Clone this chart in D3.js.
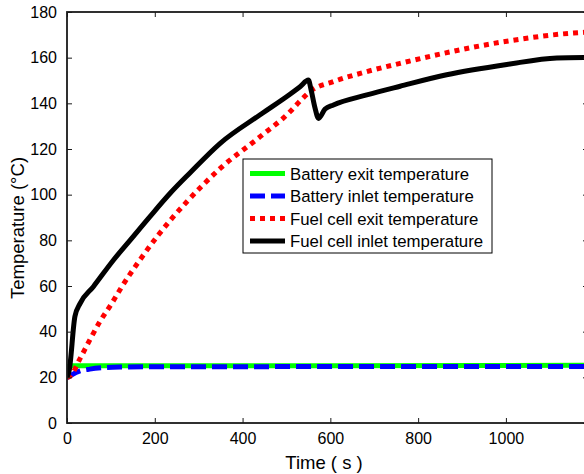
<!DOCTYPE html>
<html><head><meta charset="utf-8">
<script src="https://cdn.jsdelivr.net/npm/d3@7"></script>
<style>body{margin:0;background:#fff}svg{display:block}text{font-family:"Liberation Sans",Arial,sans-serif;fill:#000}</style>
</head><body><svg id="c" width="584" height="474"></svg>
<script>
// Data
const batExitT = [0, 3, 10, 600, 1187];
const batExitV = [20, 24.8, 25.1, 25.1, 25.3];
const batInletT = [0, 10, 30, 52, 80, 120, 200, 1187];
const batInletV = [19.8, 21, 22.8, 23.6, 24.2, 24.5, 24.6, 24.8];
const fcExitT = [0, 7, 30, 52, 75, 102, 125, 166, 208, 239, 273, 349, 440, 508, 531, 556, 607, 683, 759, 858, 1002, 1154, 1187];
const fcExitV = [20, 20.5, 28.3, 36.4, 44.4, 52.4, 59.7, 71.4, 82.3, 89.6, 96.9, 111.5, 125.4, 136.3, 141.0, 145.5, 149.5, 153.9, 157.5, 161.9, 167.2, 170.8, 171.2];
const fcInletT = [0, 5, 18, 30, 60, 106, 144, 189, 235, 280, 349, 440, 508, 531, 550, 556, 565, 573, 588, 607, 683, 759, 865, 1002, 1116, 1187];
const fcInletV = [20, 23, 46.6, 52.4, 59.7, 71.4, 80.1, 90.4, 100.6, 109.5, 122.5, 135.0, 144.0, 147.3, 150.2, 146, 138, 133.4, 137.5, 139.3, 143.7, 147.5, 152.5, 157.0, 159.9, 160.1];
const xTicks = [0, 200, 400, 600, 800, 1000];
const yTicks = [0, 20, 40, 60, 80, 100, 120, 140, 160, 180];
const seriesNames = ["Battery exit temperature", "Battery inlet temperature", "Fuel cell exit temperature", "Fuel cell inlet temperature"];
const xLabel = "Time ( s )";
const yLabel = "Temperature (°C)";

const svg = d3.select("#c");
const L = 67, R = 588, T = 12, B = 423;
const x = d3.scaleLinear().domain([0, 1187]).range([L, R]);
const y = d3.scaleLinear().domain([0, 180]).range([B, T]);

svg.append("defs").append("clipPath").attr("id", "clip")
  .append("rect").attr("x", L).attr("y", T).attr("width", R - L).attr("height", B - T);

const series = [
  {t: batExitT, v: batExitV, color: "#00ff00", dash: null},
  {t: batInletT, v: batInletV, color: "#0000ff", dash: "15,6"},
  {t: fcExitT, v: fcExitV, color: "#ff0000", dash: "5,5"},
  {t: fcInletT, v: fcInletV, color: "#000000", dash: null}
];
const line = d3.line().x(d => x(d[0])).y(d => y(d[1])).curve(d3.curveMonotoneX);
const g = svg.append("g").attr("clip-path", "url(#clip)");
series.forEach(s => {
  const pts = s.t.map((t, i) => [t, s.v[i]]);
  g.append("path").attr("d", line(pts)).attr("fill", "none")
    .attr("stroke", s.color).attr("stroke-width", 5)
    .attr("stroke-linejoin", "round")
    .attr("stroke-dasharray", s.dash);
});

// Axes box
const ax = svg.append("g").attr("stroke", "#1a1a1a").attr("stroke-width", 1.8).attr("fill", "none");
ax.append("rect").attr("x", L).attr("y", T).attr("width", R - L).attr("height", B - T);

const tl = 5;
const xb = d3.axisBottom(x).tickValues(xTicks).tickSize(-tl).tickPadding(10).tickFormat(d3.format("d"));
const xt = d3.axisTop(x).tickValues(xTicks).tickSize(-tl).tickFormat("");
const yl = d3.axisLeft(y).tickValues(yTicks).tickSize(-tl).tickPadding(10).tickFormat(d3.format("d"));
const yr = d3.axisRight(y).tickValues(yTicks).tickSize(-tl).tickFormat("");
function style(sel) {
  sel.select(".domain").remove();
  sel.selectAll("line").attr("stroke", "#1a1a1a").attr("stroke-width", 1);
  sel.selectAll("text").attr("font-size", 16).attr("font-family", "Liberation Sans, Arial, sans-serif").attr("fill", "#000");
}
svg.append("g").attr("transform", `translate(0,${B})`).call(xb).call(style);
svg.append("g").attr("transform", `translate(0,${T})`).call(xt).call(style);
svg.append("g").attr("transform", `translate(${L},0)`).call(yl).call(style);
svg.append("g").attr("transform", `translate(${R},0)`).call(yr).call(style);

svg.append("text").attr("x", 324).attr("y", 469).attr("text-anchor", "middle")
  .attr("font-size", 18.5).text(xLabel);
svg.append("text").attr("transform", "translate(24,228) rotate(-90)").attr("text-anchor", "middle")
  .attr("font-size", 18.5).text(yLabel);

// Legend
const lg = svg.append("g");
lg.append("rect").attr("x", 243).attr("y", 159).attr("width", 249).attr("height", 94)
  .attr("fill", "#fff").attr("stroke", "#000").attr("stroke-width", 1);
seriesNames.forEach((n, i) => {
  const cy = 173.5 + i * 22.5;
  lg.append("line").attr("x1", 250).attr("x2", 285).attr("y1", cy).attr("y2", cy)
    .attr("stroke", series[i].color).attr("stroke-width", 5)
    .attr("stroke-dasharray", series[i].dash);
  lg.append("text").attr("x", 290).attr("y", cy + 6).attr("font-size", 16.8).text(n);
});
</script></body></html>
